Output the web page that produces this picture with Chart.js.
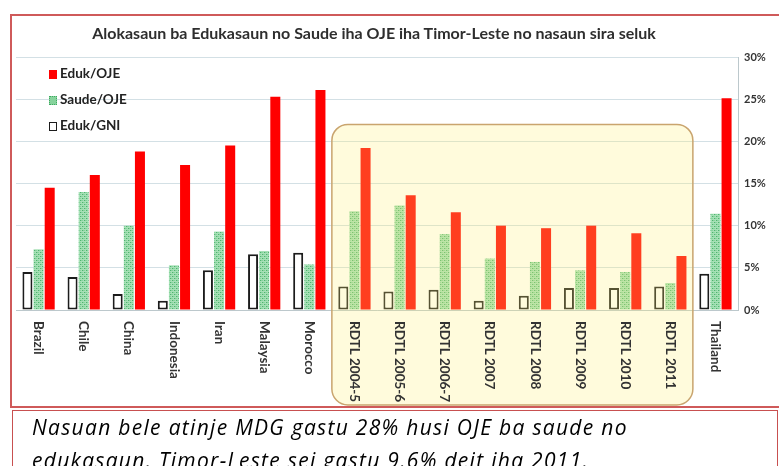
<!DOCTYPE html>
<html>
<head>
<meta charset="utf-8">
<script src="https://cdn.jsdelivr.net/npm/chart.js@4.4.1/dist/chart.umd.min.js"></script>
<style>
  html, body { margin: 0; padding: 0; background: #fff; width: 779px; height: 466px; overflow: hidden; }
  #chart-wrap { position: absolute; left: 10px; top: 14px; width: 769px; height: 394px; }
  #frame { position: absolute; left: 10px; top: 14px; width: 772px; height: 394px; box-sizing: border-box;
           border: 2px solid #cf5a5a; pointer-events: none; }
  #title { position: absolute; left: 0; top: 23px; width: 748px; text-align: center; white-space: nowrap;
           font: bold 16px Lato, sans-serif; line-height: 20px; color: #2e2e2e; }
  #legend { position: absolute; left: 49px; top: 63px; font: bold 13.5px Lato, sans-serif; color: #222; }
  #legend div { height: 26px; line-height: 20px; }
  #legend span.sw { display: inline-block; width: 8px; height: 9px; margin-right: 3px; vertical-align: -1px; box-sizing: border-box; }
  #note { position: absolute; left: 12px; top: 410px; width: 766px; height: 80px; box-sizing: border-box;
          border: 1.5px solid #c85050; padding: 0 0 0 19px; white-space: nowrap;
          font: italic 21px "Open Sans", sans-serif; letter-spacing: 1.3px; line-height: 33px; color: #000; }
</style>
</head>
<body>
<div id="chart-wrap"><canvas id="c" width="769" height="394"></canvas></div>
<div id="frame"></div>
<div id="title"></div>
<div id="legend"></div>
<div id="note">Nasuan bele atinje MDG gastu 28% husi OJE ba saude no<br>edukasaun. Timor-Leste sei gastu 9.6% deit iha 2011.</div>
<script>
/* Data (percent) */
var CATEGORIES = ['Brazil', 'Chile', 'China', 'Indonesia', 'Iran', 'Malaysia', 'Morocco',
  'RDTL 2004-5', 'RDTL 2005-6', 'RDTL 2006-7', 'RDTL 2007', 'RDTL 2008', 'RDTL 2009',
  'RDTL 2010', 'RDTL 2011', 'Thailand'];
var EDUK_GNI  = [4.5, 3.9, 1.9, 1.1, 4.7, 6.6, 6.8, 2.8, 2.2, 2.4, 1.1, 1.7, 2.6, 2.6, 2.8, 4.3];
var SAUDE_OJE = [7.2, 14.0, 10.0, 5.3, 9.3, 7.0, 5.4, 11.7, 12.4, 9.0, 6.1, 5.7, 4.7, 4.5, 3.2, 11.4];
var EDUK_OJE  = [14.5, 16.0, 18.8, 17.2, 19.5, 25.3, 26.1, 19.2, 13.6, 11.6, 10.0, 9.7, 10.0, 9.1, 6.4, 25.1];
var LEGEND_ORDER = ['Eduk/OJE', 'Saude/OJE', 'Eduk/GNI'];

/* highlighted range (RDTL years) */
var HL_FIRST = 'RDTL 2004-5', HL_LAST = 'RDTL 2011', HL_TOP = 22;

var TITLE = 'Alokasaun ba Edukasaun no Saude iha OJE iha Timor-Leste no nasaun sira seluk';

var C = {
  red: '#ff0000',
  green: '#86d39c',
  greenDot: '#4fb36f',
  grid: '#d3e0e5',
  axis: '#bcc8cc',
  tick: '#333333',
  hlFill: 'rgba(255, 238, 120, 0.26)',
  hlEdge: '#c9a46e'
};

function dotPattern() {
  var c = document.createElement('canvas');
  c.width = 4; c.height = 4;
  var g = c.getContext('2d');
  g.fillStyle = '#a6e0b6'; g.fillRect(0, 0, 4, 4);
  g.fillStyle = C.greenDot; g.fillRect(0, 0, 1, 1); g.fillRect(2, 2, 1, 1);
  g.fillStyle = C.green; g.fillRect(1, 0, 1, 1); g.fillRect(3, 2, 1, 1); g.fillRect(0, 2, 1, 1); g.fillRect(2, 0, 1, 1);
  return g.createPattern(c, 'repeat');
}
var GREEN_PAT = dotPattern();

/* rounded, see-through yellow box over the RDTL bars */
var highlightBox = {
  id: 'highlightBox',
  afterDatasetsDraw: function (chart) {
    var x = chart.scales.x, y = chart.scales.y, ctx = chart.ctx;
    var step = x.getPixelForValue(1) - x.getPixelForValue(0);
    var l = x.getPixelForValue(CATEGORIES.indexOf(HL_FIRST)) - step / 2;
    var r = x.getPixelForValue(CATEGORIES.indexOf(HL_LAST)) + step / 2;
    var t = y.getPixelForValue(HL_TOP);
    var b = chart.height - 3;
    ctx.save();
    ctx.beginPath();
    ctx.roundRect(l, t, r - l, b - t, 16);
    ctx.fillStyle = C.hlFill;
    ctx.fill();
    ctx.lineWidth = 1.5;
    ctx.strokeStyle = C.hlEdge;
    ctx.stroke();
    ctx.restore();
  }
};

/* category labels, rotated clockwise (read top to bottom) */
var downLabels = {
  id: 'downLabels',
  afterDraw: function (chart) {
    var x = chart.scales.x, ctx = chart.ctx;
    var y0 = chart.chartArea.bottom + 11;
    ctx.save();
    ctx.font = 'bold 13.5px Lato, sans-serif';
    ctx.fillStyle = C.tick;
    ctx.textAlign = 'left';
    ctx.textBaseline = 'middle';
    CATEGORIES.forEach(function (lab, i) {
      ctx.save();
      ctx.translate(x.getPixelForValue(i), y0);
      ctx.rotate(Math.PI / 2);
      ctx.fillText(lab, 0, 0);
      ctx.restore();
    });
    ctx.restore();
  }
};

new Chart(document.getElementById('c'), {
  type: 'bar',
  data: {
    labels: CATEGORIES,
    datasets: [
      { label: 'Eduk/GNI', data: EDUK_GNI, backgroundColor: '#ffffff', borderColor: '#1c1c1c', borderWidth: 2, borderSkipped: false },
      { label: 'Saude/OJE', data: SAUDE_OJE, backgroundColor: GREEN_PAT, borderWidth: 0 },
      { label: 'Eduk/OJE', data: EDUK_OJE, backgroundColor: C.red, borderWidth: 0 }
    ]
  },
  options: {
    responsive: false,
    animation: false,
    barPercentage: 0.9,
    categoryPercentage: 0.74,
    layout: { padding: { left: 6, right: 0, top: 43, bottom: 0 } },
    plugins: {
      legend: { display: false },
      tooltip: { enabled: false },
      title: { display: false }
    },
    scales: {
      x: {
        grid: { display: false },
        border: { display: true, color: C.axis },
        ticks: { display: false },
        afterFit: function (s) { s.height = 98; }
      },
      y: {
        position: 'right',
        min: 0,
        max: 30,
        grid: { color: C.grid, drawTicks: false },
        border: { display: true, color: C.axis },
        ticks: {
          stepSize: 5,
          padding: 6,
          color: C.tick,
          font: { family: 'Lato, sans-serif', size: 11, weight: 'bold' },
          callback: function (v) { return v + '%'; }
        },
        afterFit: function (s) { s.width = 41; }
      }
    }
  },
  plugins: [highlightBox, downLabels]
});

document.getElementById('title').textContent = TITLE;

/* legend in the top-left of the plot */
(function () {
  var sw = {
    'Eduk/OJE': 'background:' + C.red,
    'Saude/OJE': 'background:' + C.green + ';border:1px dotted #3fa862',
    'Eduk/GNI': 'background:#fff;border:1.5px solid #1c1c1c'
  };
  var el = document.getElementById('legend');
  LEGEND_ORDER.forEach(function (name) {
    var d = document.createElement('div');
    d.innerHTML = '<span class="sw" style="' + sw[name] + '"></span>' + name;
    el.appendChild(d);
  });
}());
</script>
</body>
</html>
